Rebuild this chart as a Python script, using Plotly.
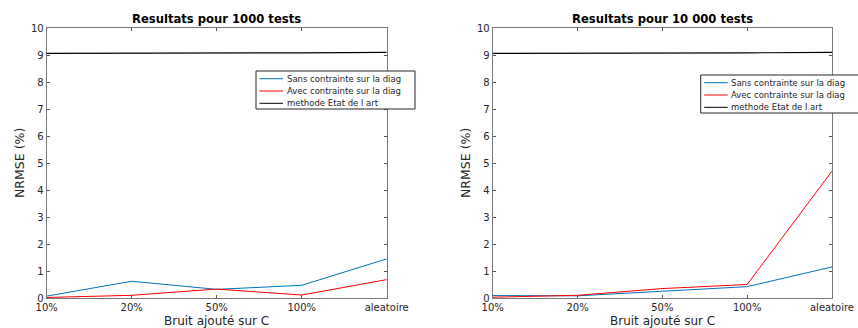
import plotly.graph_objects as go

categories = ["10%", "20%", "50%", "100%", "aleatoire"]

# 1000 tests
sans_1000 = [0.07, 0.62, 0.32, 0.47, 1.45]
avec_1000 = [0.02, 0.10, 0.33, 0.11, 0.68]
etat_1000 = [9.06, 9.06, 9.07, 9.08, 9.10]

# 10 000 tests
sans_10000 = [0.09, 0.08, 0.25, 0.42, 1.15]
avec_10000 = [0.03, 0.10, 0.35, 0.50, 4.70]
etat_10000 = [9.06, 9.06, 9.07, 9.08, 9.10]

names = ["Sans contrainte sur la diag", "Avec contrainte sur la diag", "methode Etat de l art"]
colors = ["#0072BD", "#FF0000", "#000000"]

titles = ["Resultats pour 1000 tests", "Resultats pour 10 000 tests"]
ytitle = "NRMSE (%)"
xtitle = "Bruit ajouté sur C"
yticks = list(range(0, 11))

W, H = 858, 328
FONT = "DejaVu Sans"
TXT = "#262626"
fig = go.Figure()

panels = [
    (sans_1000, avec_1000, etat_1000, "x", "y"),
    (sans_10000, avec_10000, etat_10000, "x2", "y2"),
]
for sans, avec, etat, xa, ya in panels:
    for vals, name, col in zip([sans, avec, etat], names, colors):
        fig.add_trace(go.Scatter(x=categories, y=vals, mode="lines", name=name,
                                 line=dict(color=col, width=1.2 if col == "#000000" else 1),
                                 xaxis=xa, yaxis=ya, showlegend=False, cliponaxis=False))

def px_x(p):
    return p / W

def px_y(p):
    return (H - p) / H

axis_common = dict(showline=True, linecolor="#7a7a7a", linewidth=1, mirror="ticks",
                   ticks="inside", ticklen=3, tickcolor="#555555", showgrid=False,
                   zeroline=False, tickfont=dict(family=FONT, size=10, color=TXT))

ydom = [px_y(298), px_y(28)]
doms = [[px_x(46.7), px_x(386.7)], [px_x(492.7), px_x(832)]]

layout = dict(
    width=W, height=H, margin=dict(l=0, r=0, t=0, b=0, autoexpand=False),
    paper_bgcolor="white", plot_bgcolor="white",
    font=dict(family=FONT, color=TXT),
    showlegend=False,
)
for i, (xk, yk) in enumerate([("xaxis", "yaxis"), ("xaxis2", "yaxis2")]):
    anchor_y = "y" if i == 0 else "y2"
    anchor_x = "x" if i == 0 else "x2"
    layout[xk] = dict(domain=doms[i], anchor=anchor_y, type="category",
                      categoryorder="array", categoryarray=categories,
                      range=[0, 4], tickvals=categories, ticktext=categories,
                      **axis_common)
    layout[yk] = dict(domain=ydom, anchor=anchor_x, range=[0, 10], tickvals=yticks,
                      **axis_common)

annotations = []
shapes = []
ytitle_x = [19, 465]
for i, t in enumerate(titles):
    cx = (doms[i][0] + doms[i][1]) / 2
    annotations.append(dict(text="<b>" + t + "</b>", x=cx,
                            y=px_y(18.5), xref="paper", yref="paper", showarrow=False,
                            xanchor="center", yanchor="middle",
                            font=dict(family=FONT, size=11.6, color="#000000")))
    annotations.append(dict(text=xtitle, x=cx, y=px_y(320.5), xref="paper", yref="paper",
                            showarrow=False, xanchor="center", yanchor="middle",
                            font=dict(family=FONT, size=12, color=TXT)))
    annotations.append(dict(text=ytitle, x=px_x(ytitle_x[i]), y=(ydom[0] + ydom[1]) / 2,
                            xref="paper", yref="paper", showarrow=False, textangle=-90,
                            xanchor="center", yanchor="middle",
                            font=dict(family=FONT, size=12.5, color=TXT)))

# legend boxes (left edge, top edge, right edge) in pixels
legend_boxes = [(256, 71, 415), (700.7, 75, 870)]
row_h = 12.3
for (lx, ly, rx) in legend_boxes:
    shapes.append(dict(type="rect", xref="paper", yref="paper",
                       x0=px_x(lx), x1=px_x(rx), y0=px_y(ly + 38), y1=px_y(ly),
                       line=dict(color="#262626", width=1), fillcolor="white", layer="above"))
    for k, (name, col) in enumerate(zip(names, colors)):
        yc = ly + 7.7 + k * row_h
        shapes.append(dict(type="line", xref="paper", yref="paper",
                           x0=px_x(lx + 3.5), x1=px_x(lx + 27), y0=px_y(yc), y1=px_y(yc),
                           line=dict(color=col, width=1), layer="above"))
        annotations.append(dict(text=name, x=px_x(lx + 28.5), y=px_y(yc), xref="paper", yref="paper",
                                showarrow=False, xanchor="left", yanchor="middle",
                                font=dict(family=FONT, size=8.5, color=TXT)))
layout["annotations"] = annotations
layout["shapes"] = shapes

fig.update_layout(**layout)
fig.write_html("out.html", config={"displayModeBar": False},
               post_script="document.body.style.margin='0';document.body.style.padding='0';document.body.style.overflow='hidden';")
